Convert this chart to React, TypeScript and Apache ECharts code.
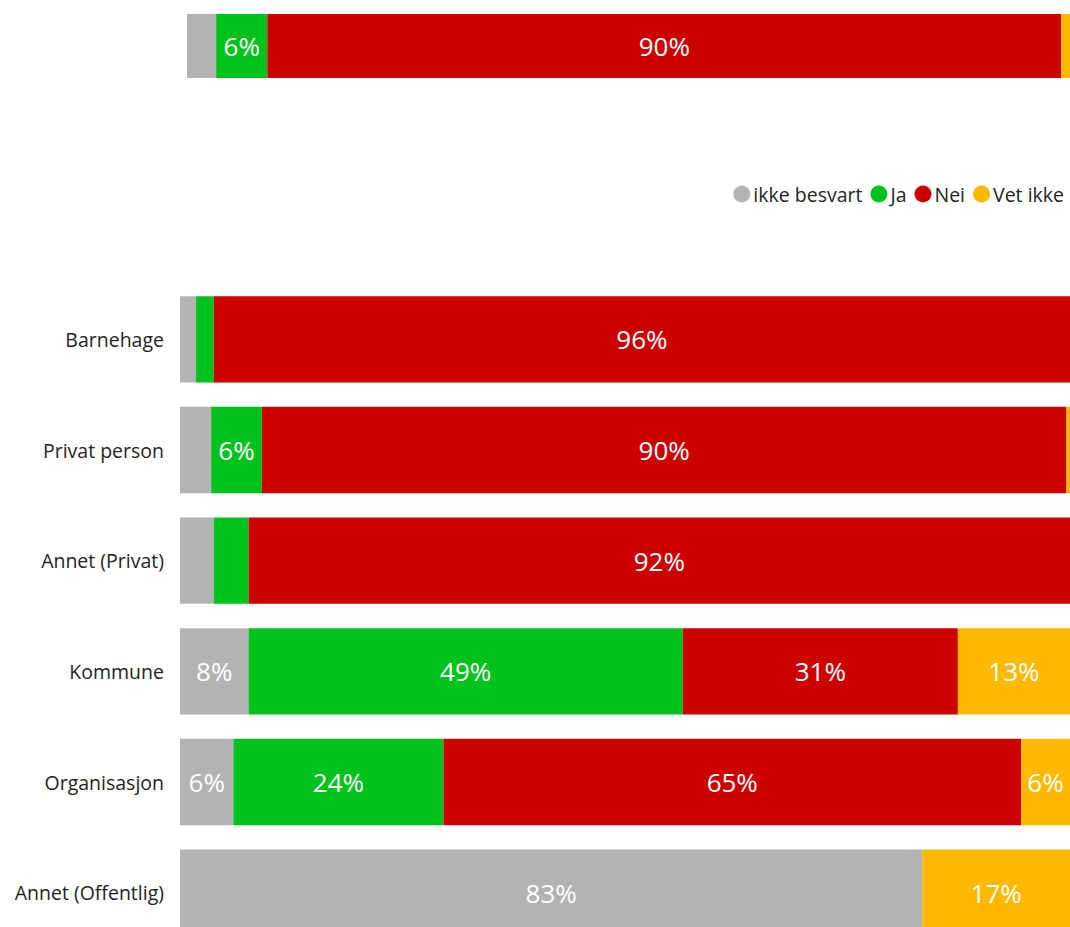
import React, { useEffect, useRef } from "react";
import * as echarts from "echarts";

const categories = ["Barnehage", "Privat person", "Annet (Privat)", "Kommune", "Organisasjon", "Annet (Offentlig)"];
const seriesNames = ["ikke besvart", "Ja", "Nei", "Vet ikke"];
const colors = ["#b3b3b3", "#00c21c", "#cd0000", "#ffb900"];

// Bottom chart values (percent)
const ikkeBesvart = [1.8, 3.5, 3.8, 7.7, 6.0, 83.4];
const ja = [2.0, 5.7, 3.9, 48.8, 23.6, 0];
const nei = [96.2, 90.4, 92.3, 30.9, 64.9, 0];
const vetIkke = [0, 0.4, 0, 12.6, 5.5, 16.6];

// Top total bar values (percent)
const totalIkkeBesvart = [3.3];
const totalJa = [5.8];
const totalNei = [89.9];
const totalVetIkke = [1.0];

const bottomData = [ikkeBesvart, ja, nei, vetIkke];
const topData = [totalIkkeBesvart, totalJa, totalNei, totalVetIkke];

const FONT = "'Open Sans', 'Noto Sans', sans-serif";

const labelCfg = {
  show: true,
  position: "inside",
  color: "#ffffff",
  fontSize: 26,
  fontFamily: FONT,
  formatter: (p: any) => (p.value >= 5 ? Math.round(p.value) + "%" : ""),
};

export default function App() {
  const ref = useRef<HTMLDivElement>(null);
  useEffect(() => {
    if (!ref.current) return;
    const chart = echarts.init(ref.current, undefined, { renderer: "svg" });
    const series: any[] = [];
    seriesNames.forEach((name, i) => {
      series.push({
        name,
        type: "bar",
        stack: "top",
        xAxisIndex: 0,
        yAxisIndex: 0,
        barWidth: "100%",
        itemStyle: { color: colors[i] },
        label: labelCfg,
        data: topData[i],
      });
    });
    seriesNames.forEach((name, i) => {
      series.push({
        name,
        type: "bar",
        stack: "bottom",
        xAxisIndex: 1,
        yAxisIndex: 1,
        barCategoryGap: "22%",
        itemStyle: { color: colors[i] },
        label: labelCfg,
        data: bottomData[i],
      });
    });
    chart.setOption({
      animation: false,
      textStyle: { fontFamily: FONT },
      legend: {
        data: seriesNames,
        right: 1,
        top: 179,
        icon: "circle",
        itemWidth: 17,
        itemHeight: 17,
        itemGap: 8,
        textStyle: { fontSize: 19.5, color: "#252423", fontFamily: FONT, padding: [0, 0, 0, -2] },
      },
      grid: [
        { left: 187, right: 0, top: 14, height: 64 },
        { left: 180, right: 0, top: 284, height: 664 },
      ],
      xAxis: [
        { type: "value", gridIndex: 0, min: 0, max: 100, show: false },
        { type: "value", gridIndex: 1, min: 0, max: 100, show: false },
      ],
      yAxis: [
        { type: "category", gridIndex: 0, data: [""], show: false },
        {
          type: "category",
          gridIndex: 1,
          data: categories,
          inverse: true,
          axisLine: { show: false },
          axisTick: { show: false },
          axisLabel: { fontSize: 19.5, color: "#252423", margin: 16, fontFamily: FONT },
        },
      ],
      series,
    });
    return () => chart.dispose();
  }, []);
  return (
    <div style={{ position: "absolute", left: 0, top: 0, width: 1070, height: 927, overflow: "hidden", background: "#fff" }}>
      <div ref={ref} style={{ width: 1070, height: 960 }} />
    </div>
  );
}
